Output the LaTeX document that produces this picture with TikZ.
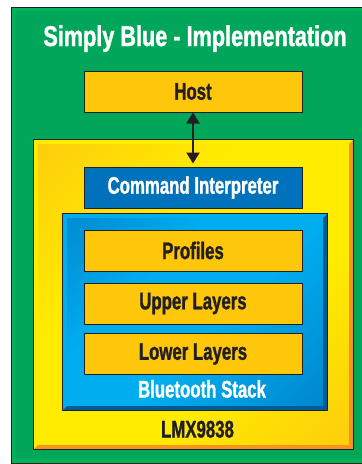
\documentclass[tikz,border=0pt]{standalone}
\usepackage{fontspec}
\setmainfont{Liberation Sans}[FakeStretch=0.70, BoldFeatures={FakeBold=1.2}]
\newfontfamily\titlefont{Liberation Sans}[FakeStretch=0.76, BoldFeatures={FakeBold=1.2}]
\usetikzlibrary{arrows.meta}
\definecolor{board}{RGB}{0,166,90}
\definecolor{board rim}{RGB}{0,178,88}
\definecolor{layer}{RGB}{255,199,10}
\definecolor{chip light}{RGB}{255,236,0}
\definecolor{chip dark}{RGB}{253,185,19}
\definecolor{chip rim}{RGB}{247,148,29}
\definecolor{stack light}{RGB}{0,174,239}
\definecolor{stack dark}{RGB}{0,114,188}
\definecolor{stack rim}{RGB}{0,91,154}
\definecolor{ink}{RGB}{35,31,32}
\pgfdeclarehorizontalshading{chipshade}{100bp}{color(0bp)=(chip dark); color(38bp)=(chip light); color(62bp)=(chip light); color(100bp)=(chip dark)}
\pgfdeclarehorizontalshading{stackshade}{100bp}{color(0bp)=(stack dark); color(38bp)=(stack light); color(55bp)=(stack light); color(100bp)=(stack dark)}
\tikzset{
  labelfont/.style={font=\fontsize{24}{26}\selectfont\bfseries},
  frame/.style={draw=ink, line width=1pt}
  }
\tikzstyle{layer box}=[frame, fill=layer, text=ink, labelfont, minimum width=218pt, minimum height=41pt, inner sep=0pt]
\tikzstyle{cmd box}=[layer box, fill=stack dark, text=white]
\tikzstyle{caption}=[labelfont, anchor=base, inner sep=0pt]
\tikzstyle{link}=[draw=ink, line width=2pt, {Triangle[width=13pt,length=11pt]}-{Triangle[width=13pt,length=11pt]}]

\begin{document}
\begin{tikzpicture}[x=1pt, y=-1pt]
    \useasboundingbox (0,0) rectangle (362,464);
    \clip (0,0) rectangle (362,464);

    % board
    \fill[white] (0,0) rectangle (362,464);
    \draw[frame, fill=board rim] (11,7) rectangle (366,463);
    \fill[board] (15,11) rectangle (366,459);
    \node[text=white, font=\titlefont\fontsize{28.5}{30}\selectfont\bfseries, anchor=base, inner sep=0pt] (title) at (195,46) {Simply Blue - Implementation};

    % LMX9838 chip with bevel
    \node[minimum width=319pt, minimum height=309pt, inner sep=0pt] (lmx) at (193.5,294.5) {};
    \shade[shading=chipshade, shading angle=-45] (lmx.north west) rectangle (lmx.south east);
    \fill[chip light] (lmx.south west) -- (lmx.north west) -- (lmx.north east)
      -- ([shift={(-4pt,-4pt)}]lmx.north east) -- ([shift={(4pt,-4pt)}]lmx.north west)
      -- ([shift={(4pt,4pt)}]lmx.south west) -- cycle;
    \fill[chip rim] (lmx.south west) -- (lmx.south east) -- (lmx.north east)
      -- ([shift={(-4pt,-4pt)}]lmx.north east) -- ([shift={(-4pt,4pt)}]lmx.south east)
      -- ([shift={(4pt,4pt)}]lmx.south west) -- cycle;
    \draw[frame] (lmx.north west) rectangle (lmx.south east);

    % Bluetooth stack with bevel
    \node[minimum width=264pt, minimum height=196pt, inner sep=0pt] (stack) at (195,312) {};
    \shade[shading=stackshade, shading angle=-45] (stack.north west) rectangle (stack.south east);
    \fill[stack light] (stack.south west) -- (stack.north west) -- (stack.north east)
      -- ([shift={(-4pt,-4pt)}]stack.north east) -- ([shift={(4pt,-4pt)}]stack.north west)
      -- ([shift={(4pt,4pt)}]stack.south west) -- cycle;
    \fill[stack rim] (stack.south west) -- (stack.south east) -- (stack.north east)
      -- ([shift={(-4pt,-4pt)}]stack.north east) -- ([shift={(-4pt,4pt)}]stack.south east)
      -- ([shift={(4pt,4pt)}]stack.south west) -- cycle;
    \draw[frame] (stack.north west) rectangle (stack.south east);

    \node[layer box] (host) at (193,91.5) {Host};
    \node[cmd box] (cmd) at (193,187.5) {Command Interpreter};

    \foreach \pos/\name/\txt in {{(193,250.5)/prof/Profiles}, {(193,303.5)/upper/Upper Layers}, {(193,354)/lower/Lower Layers}}
      \node[layer box] (\name) at \pos {\txt};

    \node[caption, text=white] (stacklabel) at (202,397.5) {Bluetooth Stack};
    \node[caption, text=ink] (lmxlabel) at (197.5,437.5) {LMX9838};

    \path[link] (host) -- (cmd) [shorten >=3pt];
\end{tikzpicture}
\end{document}
